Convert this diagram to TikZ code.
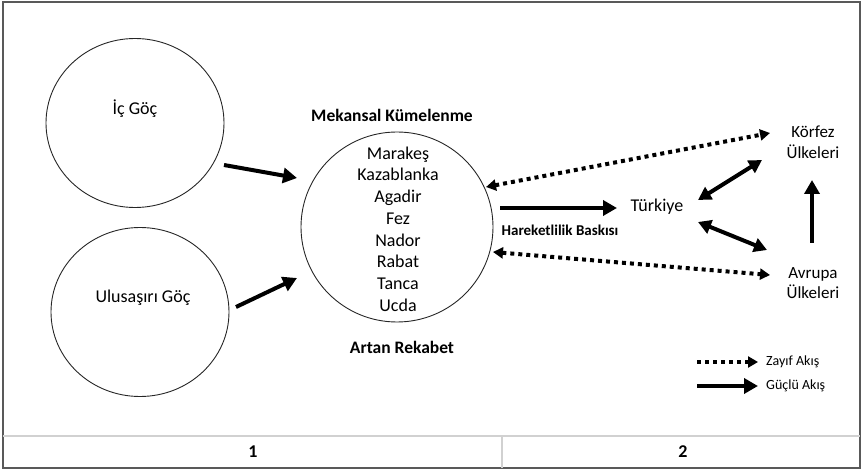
\documentclass[tikz,border=0pt]{standalone}
\usepackage{fontspec}
\setmainfont{Carlito}
\usetikzlibrary{arrows.meta,shapes.geometric}
\begin{document}
\begin{tikzpicture}[x=1pt,y=-1pt,
  circ/.style={draw=black!85,line width=0.9pt,ellipse,inner sep=0pt},
  txt/.style={font=\fontsize{18}{21.7}\selectfont,inner sep=0pt,align=center},
  ctxt/.style={font=\fontsize{17}{20.5}\selectfont,inner sep=0pt,align=center},
  btxt/.style={font=\fontsize{17.5}{20}\selectfont\bfseries,inner sep=0pt},
  ltxt/.style={font=\fontsize{14}{16}\selectfont,inner sep=0pt,anchor=west},
  strongflow/.style={line width=4pt,-{Triangle[length=14pt,width=15pt]}},
  bothflow/.style={line width=4pt,{Triangle[length=13pt,width=14pt]}-{Triangle[length=13pt,width=14pt]}},
  weakbase/.style={line width=4pt,dash pattern=on 4pt off 4pt},
  weakflow/.style={weakbase,{Triangle[length=10pt,width=11pt]}-{Triangle[length=10pt,width=11pt]}},
  weakone/.style={weakbase,-{Triangle[length=10pt,width=11pt]}},
]
\useasboundingbox (0,0) rectangle (862,470);
% frame and table
\draw[draw=black!65,line width=1.5pt] (3,2) rectangle (860,468);
\draw[draw=black!18,line width=1.6pt] (3,436) -- (860,436);
\draw[draw=black!18,line width=1.2pt] (502,436) -- (502,468);
\node[btxt,font=\fontsize{18}{20}\selectfont\bfseries] (n1) at (253,452) {1};
\node[btxt,font=\fontsize{18}{20}\selectfont\bfseries] (n2) at (683,452) {2};

% circles
\node[circ,minimum width=178pt,minimum height=169pt] (ic) at (135,123) {};
\node[circ,minimum width=178pt,minimum height=169pt] (ul) at (140,312) {};
\node[circ,minimum width=192pt,minimum height=190pt] (mk) at (397,227) {};

% texts
\node[txt] (ict) at (135,109) {İç Göç};
\node[txt] (ult) at (143,298) {Ulusaşırı Göç};
\node[txt] (cities) at (398,229) {Marakeş\\Kazablanka\\Agadir\\Fez\\Nador\\Rabat\\Tanca\\Ucda};
\node[btxt] (mkt) at (392,115) {Mekansal Kümelenme};
\node[btxt] (art) at (402,347) {Artan Rekabet};
\node[txt] (tr) at (657,207) {Türkiye};
\node[ctxt] (kf) at (813,142) {Körfez\\Ülkeleri};
\node[ctxt] (av) at (813,283) {Avrupa\\Ülkeleri};
\node[btxt,font=\fontsize{15}{18}\selectfont\bfseries] (hb) at (560,230) {Hareketlilik Baskısı};

% arrow end points
\coordinate (a1s) at (224,165); \coordinate (a1e) at (297,178);
\coordinate (a2s) at (236,307); \coordinate (a2e) at (297,278);
\coordinate (w1s) at (486,187); \coordinate (w1e) at (770,133);
\coordinate (w2s) at (493,252); \coordinate (w2e) at (770,275);
\coordinate (hs) at (500,208);  \coordinate (he) at (617,208);
\coordinate (tk1) at (698,200); \coordinate (tk2) at (762,160);
\coordinate (ta1) at (698,222); \coordinate (ta2) at (767,250);
\coordinate (up1) at (812,243); \coordinate (up2) at (812,180);

\draw[strongflow] (a1s) -- (a1e);
\draw[strongflow] (a2s) -- (a2e);
\draw[weakflow] (w1s) -- (w1e);
\draw[weakflow] (w2s) -- (w2e);
\draw[strongflow] (hs) -- (he);
\draw[bothflow] (tk1) -- (tk2);
\draw[bothflow] (ta1) -- (ta2);
\draw[strongflow] (up1) -- (up2);

% legend
\coordinate (lw1) at (697,362); \coordinate (lw2) at (758,362);
\coordinate (ls1) at (697,386); \coordinate (ls2) at (758,386);
\draw[weakone] (lw1) -- (lw2);
\draw[strongflow] (ls1) -- (ls2);
\node[ltxt] (lwt) at (766,362) {Zayıf Akış};
\node[ltxt] (lst) at (766,386) {Güçlü Akış};
\end{tikzpicture}
\end{document}
